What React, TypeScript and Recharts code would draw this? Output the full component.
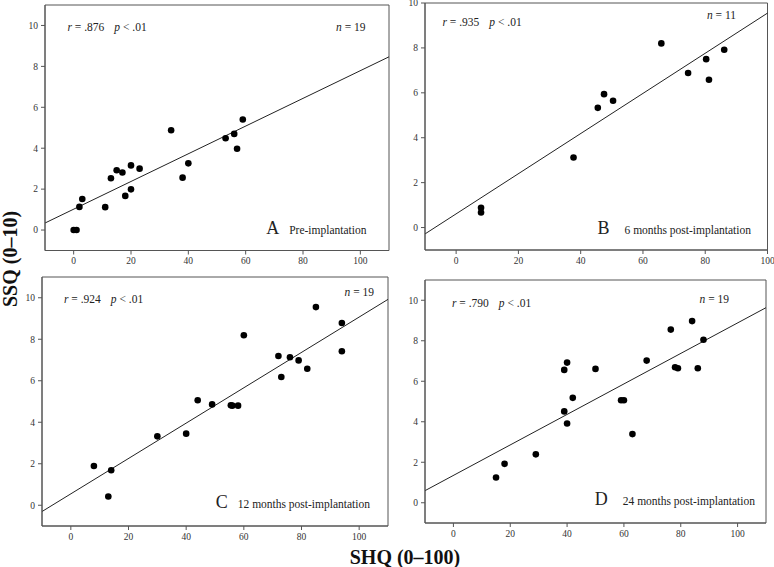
import {
  ScatterChart,
  Scatter,
  XAxis,
  YAxis,
  ReferenceLine,
  ReferenceArea,
} from "recharts";

// SHQ (x) and SSQ (y) scores per panel
const shqA = [0, 1, 2, 3, 11, 13, 15, 17, 18, 20, 20, 23, 34, 38, 40, 53, 56, 57, 59];
const ssqA = [0, 0, 1.13, 1.52, 1.12, 2.53, 2.92, 2.81, 1.67, 3.16, 1.99, 3.0, 4.88, 2.56, 3.26, 4.49, 4.7, 3.97, 5.4];

const shqB = [8, 8, 37.7, 45.5, 47.5, 50.4, 65.9, 74.5, 80.3, 81.2, 86.1];
const ssqB = [0.88, 0.67, 3.12, 5.33, 5.94, 5.65, 8.2, 6.88, 7.5, 6.58, 7.92];

const shqC = [8, 13, 14, 30, 40, 44, 49, 55.5, 56, 58, 60, 72, 73, 76, 79, 82, 85, 94, 94];
const ssqC = [1.89, 0.42, 1.69, 3.32, 3.45, 5.06, 4.86, 4.82, 4.8, 4.8, 8.19, 7.19, 6.18, 7.13, 6.98, 6.58, 9.55, 8.78, 7.42];

const shqD = [15, 18, 29, 39, 39, 40, 40, 42, 50, 59, 60, 63, 68, 76.5, 78, 79, 84, 86, 88];
const ssqD = [1.25, 1.92, 2.39, 6.56, 4.51, 6.92, 3.91, 5.18, 6.61, 5.06, 5.06, 3.39, 7.02, 8.55, 6.69, 6.64, 8.97, 6.64, 8.05];

// fitted lines: [intercept, slope]
const fitA = [1.02, 0.0677];
const fitB = [0.61, 0.0894];
const fitC = [0.55, 0.0852];
const fitD = [1.35, 0.0753];

const stats = ["r = .876", "r = .935", "r = .924", "r = .790"];
const counts = ["n = 19", "n = 11", "n = 19", "n = 19"];
const letters = ["A", "B", "C", "D"];
const captions = ["Pre-implantation", "6 months post-implantation", "12 months post-implantation", "24 months post-implantation"];

const xTicks = [0, 20, 40, 60, 80, 100];
const yTicks = [0, 2, 4, 6, 8, 10];

const SERIF = "'Times New Roman', 'Liberation Serif', serif";
const AXIS = "#555";

const toPoints = (xs: number[], ys: number[]) => xs.map((x, i) => ({ x, y: ys[i] }));

const panels = [
  {
    box: [44.5, 5, 388.5, 250.5], xd: [-10, 110], yd: [-1, 11],
    data: toPoints(shqA, ssqA), fit: fitA,
    rPos: [23, 26], nPos: [23, 26], capPos: [22, 17], gap: 10,
  },
  {
    box: [424.5, 3, 767, 250], xd: [-10, 100], yd: [-1, 10],
    data: toPoints(shqB, ssqB), fit: fitB,
    rPos: [18, 23], nPos: [31, 16], capPos: [16, 16], gap: 15,
  },
  {
    box: [42, 276.5, 388, 525.5], xd: [-10, 110], yd: [-1, 11],
    data: toPoints(shqC, ssqC), fit: fitC,
    rPos: [22, 26], nPos: [14, 19], capPos: [18, 18], gap: 10,
  },
  {
    box: [425, 280, 766, 523], xd: [-10, 110], yd: [-1, 11],
    data: toPoints(shqD, ssqD), fit: fitD,
    rPos: [27, 27], nPos: [37, 23], capPos: [11, 18], gap: 15,
  },
];

const PAD_L = 40;
const PAD_T = 10;
const PAD_R = 10;
const PAD_B = 30;

function Dot(props: any) {
  return <circle cx={props.cx} cy={props.cy} r={3.3} fill="#000" />;
}

function Panel({ p }: { p: (typeof panels)[number] }) {
  const [x0, y0, x1, y1] = p.box;
  const w = x1 - x0 + PAD_L + PAD_R;
  const h = y1 - y0 + PAD_T + PAD_B;
  const [b, m] = p.fit;
  const tick = { fontSize: 9.5, fill: "#333", fontFamily: SERIF };
  return (
    <div style={{ position: "absolute", left: x0 - PAD_L, top: y0 - PAD_T }}>
      <ScatterChart
        width={w}
        height={h}
        margin={{ top: PAD_T, right: PAD_R, bottom: 0, left: 0 }}
        style={{ fontFamily: SERIF }}
      >
        <XAxis
          type="number"
          dataKey="x"
          domain={p.xd}
          ticks={xTicks}
          allowDataOverflow
          height={PAD_B}
          tick={tick}
          tickSize={4}
          tickMargin={3}
          stroke={AXIS}
        />
        <YAxis
          type="number"
          dataKey="y"
          domain={p.yd}
          ticks={yTicks}
          allowDataOverflow
          width={PAD_L}
          tick={tick}
          tickSize={4}
          tickMargin={3}
          stroke={AXIS}
        />
        <ReferenceArea
          x1={p.xd[0]}
          x2={p.xd[1]}
          y1={p.yd[0]}
          y2={p.yd[1]}
          fill="none"
          stroke={AXIS}
          strokeWidth={1}
        />
        <ReferenceLine
          segment={[
            { x: p.xd[0], y: b + m * p.xd[0] },
            { x: p.xd[1], y: b + m * p.xd[1] },
          ]}
          stroke="#222"
          strokeWidth={1}
        />
        <Scatter data={p.data} fill="#000" shape={Dot} isAnimationActive={false} />
      </ScatterChart>
    </div>
  );
}

export default function App() {
  return (
    <div
      style={{
        position: "absolute",
        left: 0,
        top: 0,
        width: 774,
        height: 567,
        background: "#fff",
        overflow: "hidden",
        fontFamily: SERIF,
      }}
    >
      {panels.map((p, i) => (
        <Panel key={i} p={p} />
      ))}
      <svg
        width={774}
        height={567}
        style={{ position: "absolute", left: 0, top: 0, pointerEvents: "none", fontFamily: SERIF }}
        fill="#222"
      >
        {panels.map((p, i) => {
          const [x0, y0, x1, y1] = p.box;
          const [rName, rVal] = stats[i].split(" = ");
          const [nName, nVal] = counts[i].split(" = ");
          return (
            <g key={i}>
              <text x={x0 + p.rPos[0]} y={y0 + p.rPos[1]} fontSize={11.5}>
                <tspan fontStyle="italic">{rName}</tspan>
                <tspan> = {rVal}</tspan>
                <tspan dx={10} fontStyle="italic">p</tspan>
                <tspan> &lt; .01</tspan>
              </text>
              <text x={x1 - p.nPos[0]} y={y0 + p.nPos[1]} fontSize={11.5} textAnchor="end">
                <tspan fontStyle="italic">{nName}</tspan>
                <tspan> = {nVal}</tspan>
              </text>
              <text x={x1 - p.capPos[0]} y={y1 - p.capPos[1]} fontSize={11.5} textAnchor="end">
                <tspan fontSize={18}>{letters[i]}</tspan>
                <tspan dx={p.gap}>{captions[i]}</tspan>
              </text>
            </g>
          );
        })}
        <text
          x={405}
          y={564}
          fontSize={20}
          fontWeight="bold"
          textAnchor="middle"
          fill="#111"
        >
          SHQ (0–100)
        </text>
        <text
          transform="translate(17, 259) rotate(-90)"
          fontSize={20}
          fontWeight="bold"
          textAnchor="middle"
          fill="#111"
        >
          SSQ (0–10)
        </text>
      </svg>
    </div>
  );
}
